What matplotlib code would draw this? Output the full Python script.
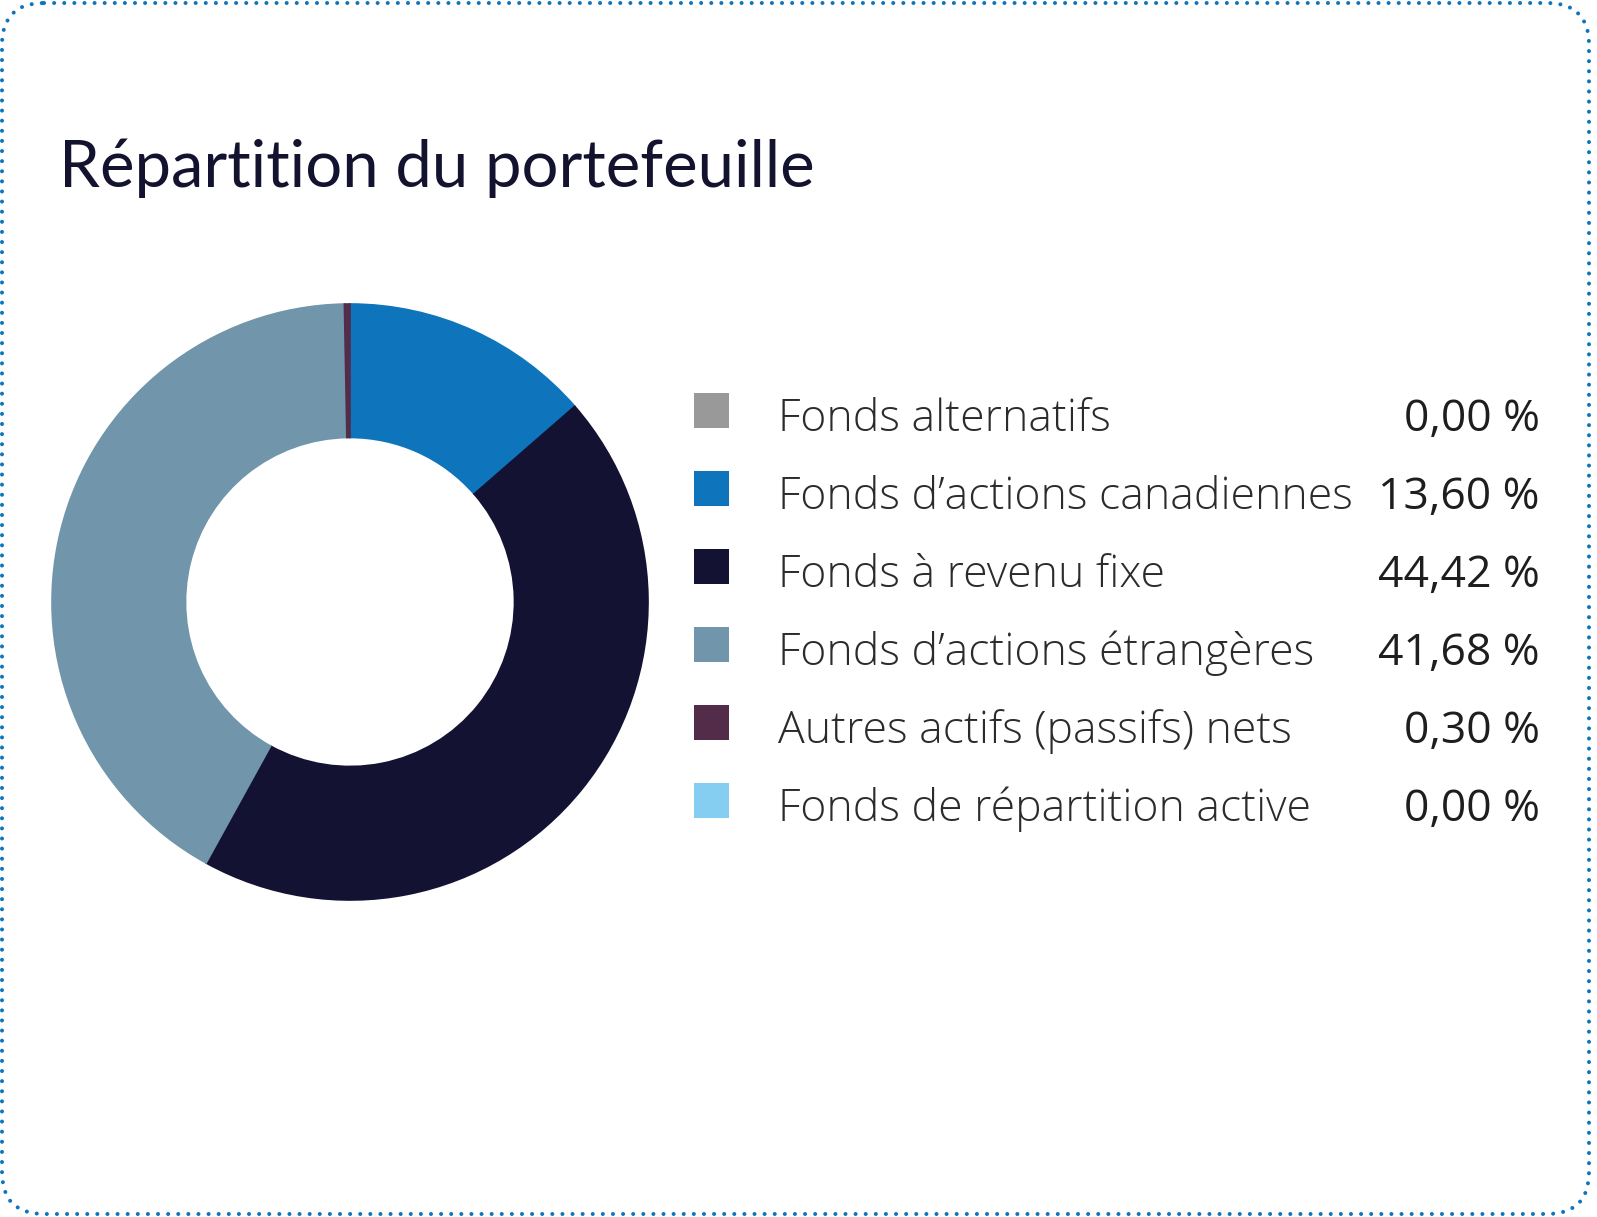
import matplotlib.pyplot as plt
from matplotlib.patches import FancyBboxPatch, Rectangle

titre = "Répartition du portefeuille"
categories = ["Fonds alternatifs", "Fonds d\u2019actions canadiennes", "Fonds à revenu fixe",
              "Fonds d\u2019actions étrangères", "Autres actifs (passifs) nets",
              "Fonds de répartition active"]
valeurs = [0.00, 13.60, 44.42, 41.68, 0.30, 0.00]
etiquettes = ["0,00 %", "13,60 %", "44,42 %", "41,68 %", "0,30 %", "0,00 %"]
couleurs = ["#999999", "#0E75BC", "#131232", "#7195AA", "#532C4A", "#86CDF2"]

W, H = 1597, 1217
fig = plt.figure(figsize=(W / 100, H / 100), dpi=100)
fig.patch.set_facecolor("white")

# calque en pixels pour le cadre, le titre et la légende
bg = fig.add_axes([0, 0, 1, 1])
bg.set_xlim(0, W)
bg.set_ylim(H, 0)
bg.axis("off")

cadre = FancyBboxPatch((2, 3), 1587, 1211, boxstyle="round,pad=0,rounding_size=42",
                       fill=False, edgecolor="#0E75BC", linewidth=2.9,
                       linestyle=(0, (0.01, 2.5)), capstyle="round")
bg.add_patch(cadre)

bg.text(59, 187, titre, fontsize=47, color="#13132F", family="Lato",
        ha="left", va="baseline")

for i, (cat, lab, col) in enumerate(zip(categories, etiquettes, couleurs)):
    y = 431 + i * 78
    bg.add_patch(Rectangle((694, y - 38), 35, 35, facecolor=col, edgecolor="none"))
    bg.text(778, y, cat, fontsize=32, color="#2b2b2b", family="Open Sans",
            fontweight="light", ha="left", va="baseline")
    bg.text(1540, y, lab, fontsize=32, color="#1e1e1e", family="Open Sans",
            ha="right", va="baseline")

# anneau
cx, cy, r = 350, 602, 298
ax = fig.add_axes([(cx - r) / W, (H - cy - r) / H, 2 * r / W, 2 * r / H])
parts, _ = ax.pie(valeurs, colors=couleurs, startangle=90, counterclock=False, radius=1,
                  wedgeprops=dict(width=0.448))
for p, v in zip(parts, valeurs):
    p.set_edgecolor(p.get_facecolor())
    p.set_linewidth(1.2 if v > 0 else 0)
parts[4].set_zorder(5)
ax.set_xlim(-1, 1)
ax.set_ylim(-1, 1)
ax.set_aspect("equal")
ax.axis("off")

fig.savefig("out.png", dpi=100, facecolor="white")
